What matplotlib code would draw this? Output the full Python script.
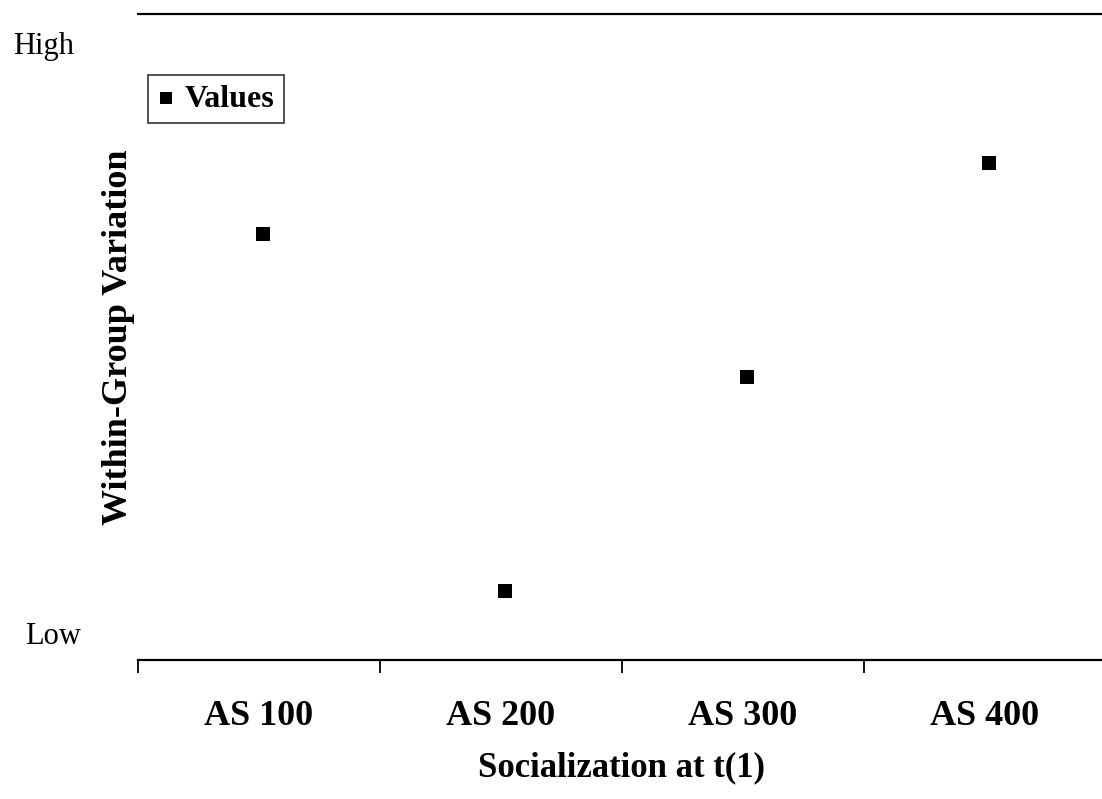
import matplotlib
matplotlib.use("Agg")
import matplotlib.pyplot as plt

# data (arbitrary 0-100 scale, Low ~ 4, High ~ 95)
categories = ['AS 100', 'AS 200', 'AS 300', 'AS 400']
values = [65.9, 10.7, 43.8, 76.9]
level_labels = ['Low', 'High']
level_pos = [3.7, 95.0]
level_x = [-0.117, -0.129]

plt.rcParams['font.family'] = ['Liberation Serif', 'DejaVu Serif']

fig = plt.figure(figsize=(11.02, 7.99), dpi=100)
ax = fig.add_axes([138/1102, 139/799, 968/1102, 646/799])

x = [i + 1.015 for i in range(len(categories))]
ax.scatter(x, values, marker='s', s=110, color='black', label='Values',
           zorder=3, linewidths=0)

ax.set_xlim(0.5, len(categories) + 0.5)
ax.set_ylim(0, 100)

# category separators as major ticks, labels on minor ticks
ax.set_xticks([i + 0.5 for i in range(len(categories) + 1)])
ax.set_xticklabels([])
ax.set_xticks([i + 1 for i in range(len(categories))], minor=True)
ax.set_xticklabels(categories, minor=True, fontsize=26, fontweight='bold')
ax.tick_params(axis='x', which='major', direction='out', length=9, width=1.3)
ax.tick_params(axis='x', which='minor', length=0, pad=29)

ax.set_yticks([])
for lab, pos, xp in zip(level_labels, level_pos, level_x):
    ax.text(xp, pos, lab, transform=ax.get_yaxis_transform(),
            fontsize=22, ha='left', va='center')

ax.spines['left'].set_visible(False)
ax.spines['right'].set_visible(False)
ax.spines['top'].set_linewidth(1.6)
ax.spines['bottom'].set_linewidth(1.6)

ax.set_xlabel('Socialization at t(1)', fontsize=25, fontweight='bold', labelpad=13)
ax.set_ylabel('Within-Group Variation', fontsize=26, fontweight='bold', labelpad=2)

leg = ax.legend(loc='upper left', bbox_to_anchor=(0.0103, 0.906),
                borderaxespad=0, frameon=True, fancybox=False,
                handletextpad=0.33, handlelength=0.53, borderpad=0.3,
                markerscale=0.85, prop={'size': 23, 'weight': 'bold'})
leg.get_frame().set_edgecolor('black')
leg.get_frame().set_linewidth(1.2)

plt.savefig('out.png', dpi=100)
